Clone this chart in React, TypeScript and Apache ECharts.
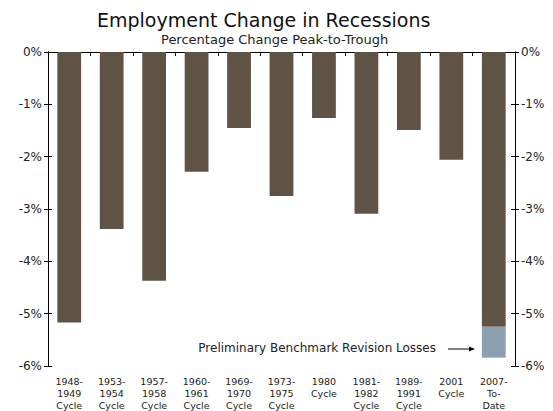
import React, { useEffect, useRef } from "react";
import * as echarts from "echarts";

const categories = [
  "1948-\n1949\nCycle",
  "1953-\n1954\nCycle",
  "1957-\n1958\nCycle",
  "1960-\n1961\nCycle",
  "1969-\n1970\nCycle",
  "1973-\n1975\nCycle",
  "1980\nCycle",
  "1981-\n1982\nCycle",
  "1989-\n1991\nCycle",
  "2001\nCycle",
  "2007-\nTo-\nDate",
];
const employmentChange = [-5.17, -3.38, -4.37, -2.29, -1.45, -2.75, -1.26, -3.09, -1.49, -2.06, -5.25];
const revisionLosses = [0, 0, 0, 0, 0, 0, 0, 0, 0, 0, -0.59];
const yTicks = { min: -6, max: 0, interval: 1 };

const FONT = "DejaVu Sans";
const W = 545;
const H = 403;

export default function App() {
  const ref = useRef<HTMLDivElement>(null);
  useEffect(() => {
    if (!ref.current) return;
    const chart = echarts.init(ref.current, null, { renderer: "svg" });
    const yBase = {
      type: "value" as const,
      min: yTicks.min,
      max: yTicks.max,
      interval: yTicks.interval,
      splitLine: { show: false },
      axisLine: { show: true, lineStyle: { color: "#000", width: 1 } },
    };
    const labelCfg = {
      fontFamily: FONT,
      fontSize: 12,
      color: "#222",
      formatter: (v: number) => `${v}%`,
    };
    chart.setOption({
      animation: false,
      title: [
        {
          text: "Employment Change in Recessions",
          left: 89,
          top: 2,
          padding: 0,
          textStyle: { fontFamily: FONT, fontSize: 19, fontWeight: "normal", color: "#111" },
        },
        {
          text: "Percentage Change Peak-to-Trough",
          left: 153,
          top: 25,
          padding: 0,
          textStyle: { fontFamily: FONT, fontSize: 13, fontWeight: "normal", color: "#222" },
        },
      ],
      grid: { left: 40, right: 38, top: 44, bottom: 45 },
      xAxis: {
        type: "category",
        data: categories,
        position: "bottom",
        axisLine: { show: true, lineStyle: { color: "#000", width: 1 } },
        axisTick: { show: true, alignWithLabel: false, length: 4, lineStyle: { color: "#000" } },
        axisLabel: {
          fontFamily: FONT,
          fontSize: 9.5,
          lineHeight: 12,
          color: "#222",
          interval: 0,
          margin: 9,
        },
      },
      yAxis: [
        { ...yBase, position: "left", axisTick: { show: true, length: 4, lineStyle: { color: "#000" } }, axisLabel: { ...labelCfg, margin: 6 } },
        { ...yBase, position: "left", axisTick: { show: true, inside: true, length: 4, lineStyle: { color: "#000" } }, axisLabel: { show: false } },
        { ...yBase, position: "right", axisTick: { show: true, length: 4, lineStyle: { color: "#000" } }, axisLabel: { ...labelCfg, margin: 6 } },
        { ...yBase, position: "right", axisTick: { show: true, inside: true, length: 4, lineStyle: { color: "#000" } }, axisLabel: { show: false } },
      ],
      series: [
        {
          type: "bar",
          stack: "total",
          yAxisIndex: 0,
          data: employmentChange,
          barWidth: "56%",
          itemStyle: { color: "#5f5346" },
        },
        {
          type: "bar",
          stack: "total",
          yAxisIndex: 0,
          data: revisionLosses,
          barWidth: "56%",
          itemStyle: { color: "#8aa0ae" },
        },
      ],
      graphic: [
        {
          type: "text",
          right: W - 428,
          top: 334,
          style: {
            text: "Preliminary Benchmark Revision Losses",
            fontFamily: FONT,
            fontSize: 12,
            fill: "#222",
          },
        },
        {
          type: "line",
          shape: { x1: 440, y1: 341, x2: 462, y2: 341 },
          style: { stroke: "#000", lineWidth: 1 },
        },
        {
          type: "polygon",
          shape: { points: [[467, 341], [461, 338.5], [461, 343.5]] },
          style: { fill: "#000" },
        },
      ],
    });
    return () => chart.dispose();
  }, []);
  return <div ref={ref} style={{ width: W, height: H }} />;
}
